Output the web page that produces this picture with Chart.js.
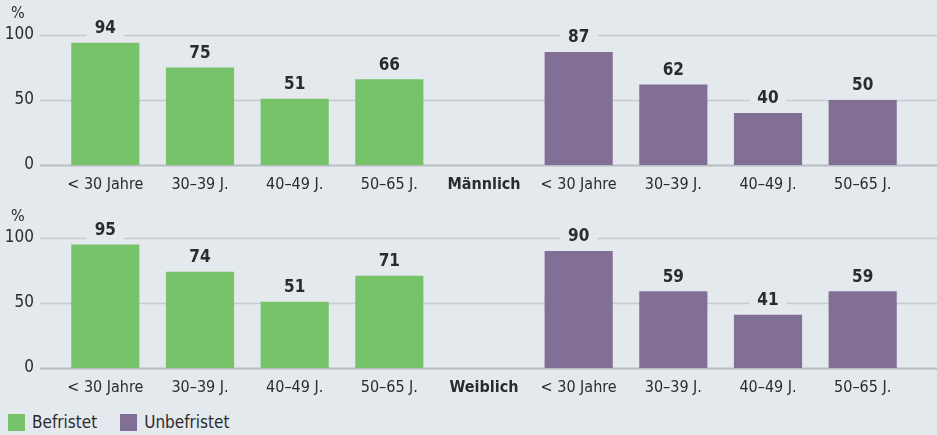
<!DOCTYPE html>
<html>
<head>
<meta charset="utf-8">
<script src="https://cdn.jsdelivr.net/npm/chart.js@4/dist/chart.umd.min.js"></script>
<style>
  body { margin: 0; background: #e4e9ee; width: 937px; height: 435px; overflow: hidden; position: relative;
         font-family: "Liberation Sans Narrow", "DejaVu Sans Condensed", sans-serif; color: #2b2b2b; }
  .panel { position: absolute; left: 0; width: 937px; height: 200px; }
  #legend { position: absolute; left: 8px; top: 412px; font-size: 17px; display: flex; align-items: center; }
  #legend span.box { display: inline-block; width: 17px; height: 17px; margin-right: 7px; }
  #legend span.item { display: flex; align-items: center; margin-right: 23px; }
</style>
</head>
<body>
<div class="panel" style="top:0"><canvas id="chartMen"></canvas></div>
<div class="panel" style="top:203px"><canvas id="chartWomen"></canvas></div>
<div id="legend">
  <span class="item"><span class="box" style="background:#77c36a"></span>Befristet</span>
  <span class="item"><span class="box" style="background:#826f96"></span>Unbefristet</span>
</div>
<script>
const ageGroups = ['< 30 Jahre', '30–39 J.', '40–49 J.', '50–65 J.'];
const seriesNames = ['Befristet', 'Unbefristet'];
const yTicks = [0, 50, 100];

const menBefristet = [94, 75, 51, 66];
const menUnbefristet = [87, 62, 40, 50];
const womenBefristet = [95, 74, 51, 71];
const womenUnbefristet = [90, 59, 41, 59];

const green = '#77c36a';
const purple = '#826f96';
const bg = '#e4e9ee';
const textColor = '#2b2b2b';
const fontFamily = '"Liberation Sans Narrow", "DejaVu Sans Condensed", sans-serif';

// grid lines across the full width + "%" label
const gridPlugin = {
    id: 'fullGrid',
    beforeDatasetsDraw(chart) {
        const ctx = chart.ctx;
        const y = chart.scales.y;
        ctx.save();
        yTicks.forEach(v => {
            const py = Math.round(y.getPixelForValue(v)) + 0.5;
            ctx.beginPath();
            ctx.strokeStyle = v === 0 ? '#b8bdc2' : '#c6cbcf';
            ctx.lineWidth = v === 0 ? 2 : 1.5;
            ctx.moveTo(40, py);
            ctx.lineTo(chart.width, py);
            ctx.stroke();
        });
        ctx.fillStyle = textColor;
        ctx.font = '16px ' + fontFamily;
        ctx.textBaseline = 'middle';
        ctx.textAlign = 'left';
        ctx.fillText('%', 11, 14);
        ctx.restore();
    },
    afterDatasetsDraw(chart) {
        const ctx = chart.ctx;
        ctx.save();
        ctx.font = 'bold 17px ' + fontFamily;
        ctx.textAlign = 'center';
        ctx.textBaseline = 'middle';
        chart.data.datasets.forEach((ds, di) => {
            chart.getDatasetMeta(di).data.forEach((bar, i) => {
                const v = ds.data[i];
                if (v === null || v === undefined) return;
                const txt = String(v);
                const w = ctx.measureText(txt).width;
                const cy = bar.y - 14;
                ctx.fillStyle = bg;
                ctx.fillRect(bar.x - w / 2 - 8, cy - 10, w + 16, 20);
                ctx.fillStyle = textColor;
                ctx.fillText(txt, bar.x, cy);
            });
        });
        ctx.restore();
    }
};

function makeChart(id, groupLabel, befristet, unbefristet) {
    const labels = [...ageGroups, groupLabel, ...ageGroups];
    const blanks = ageGroups.map(() => null);
    return new Chart(document.getElementById(id), {
        type: 'bar',
        data: {
            labels: labels,
            datasets: [{
                label: seriesNames[0],
                data: [...befristet, null, ...blanks],
                backgroundColor: green
            }, {
                label: seriesNames[1],
                data: [...blanks, null, ...unbefristet],
                backgroundColor: purple
            }]
        },
        options: {
            responsive: true,
            maintainAspectRatio: false,
            animation: false,
            grouped: false,
            barPercentage: 0.72,
            categoryPercentage: 1,
            layout: { padding: { top: 35, right: 27, left: 0, bottom: 0 } },
            plugins: { legend: { display: false }, tooltip: { enabled: false } },
            scales: {
                x: {
                    grid: { display: false, drawTicks: false },
                    border: { display: false },
                    ticks: {
                        color: textColor,
                        padding: 10,
                        maxRotation: 0,
                        autoSkip: false,
                        font: c => ({ family: fontFamily, size: 16, weight: c.index === 4 ? 'bold' : 'normal' })
                    },
                    afterFit: s => { s.height = 35; }
                },
                y: {
                    min: 0,
                    max: 100,
                    afterBuildTicks: s => { s.ticks = yTicks.map(v => ({ value: v })); },
                    grid: { display: false, drawTicks: false },
                    border: { display: false },
                    ticks: {
                        color: textColor,
                        padding: 24,
                        font: { family: fontFamily, size: 17 }
                    },
                    afterFit: s => { s.width = 58; }
                }
            }
        },
        plugins: [gridPlugin]
    });
}

makeChart('chartMen', 'Männlich', menBefristet, menUnbefristet);
makeChart('chartWomen', 'Weiblich', womenBefristet, womenUnbefristet);
</script>
</body>
</html>
